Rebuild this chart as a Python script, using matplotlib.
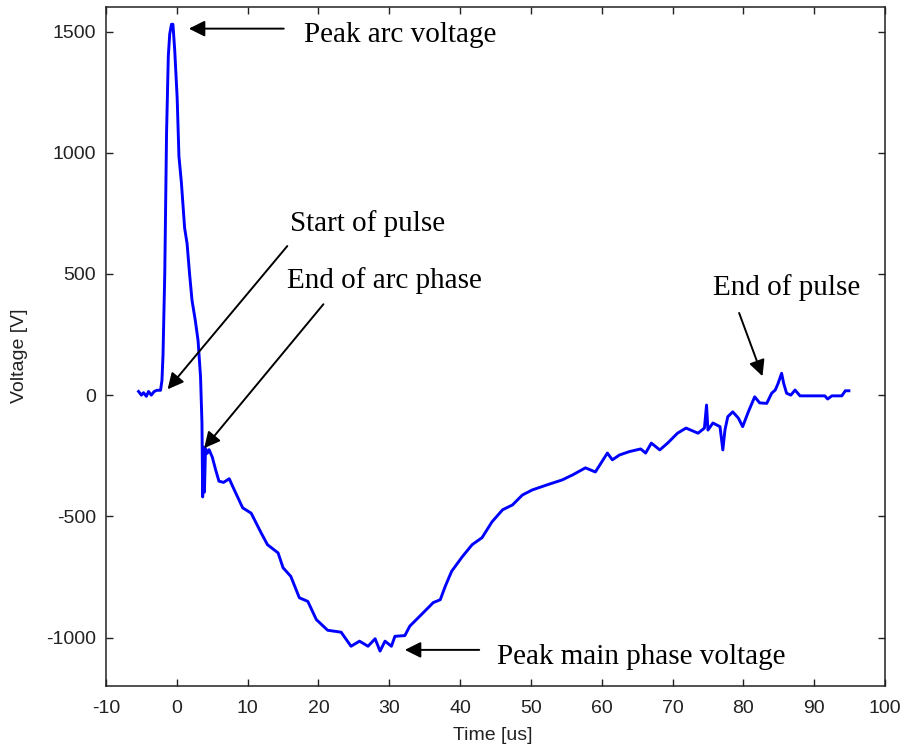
import matplotlib.pyplot as plt

plt.rcParams['axes.unicode_minus'] = False

# trace: time in us, voltage in V
time_us = [-5.4, -5.0, -4.7, -4.3, -4.0, -3.6, -3.2, -2.8, -2.3, -2.1,
           -1.95, -1.7, -1.45, -1.2, -1.0, -0.75, -0.55, -0.3, 0.05, 0.3,
           0.65, 1.1, 1.45, 1.8, 2.15, 2.6, 3.0, 3.35, 3.55, 3.65,
           3.8, 3.9, 4.05, 4.3, 4.55, 5.0, 5.5, 5.95, 6.6, 7.4,
           8.1, 9.3, 10.5, 11.9, 12.8, 14.3, 15.0, 16.1, 17.3, 18.5,
           19.7, 21.3, 23.2, 24.6, 25.8, 27.0, 28.0, 28.7, 29.4, 30.3,
           30.8, 32.2, 32.9, 34.1, 35.5, 36.2, 37.2, 37.9, 38.8, 40.3,
           41.7, 43.1, 44.5, 46.0, 47.4, 48.8, 50.2, 52.3, 54.4, 55.9,
           57.7, 59.1, 60.8, 61.5, 62.5, 63.9, 65.5, 66.2, 67.0, 68.2,
           69.3, 70.7, 71.9, 73.6, 74.5, 74.8, 75.0, 75.7, 76.7, 77.1,
           77.4, 77.8, 78.5, 79.3, 79.9, 80.7, 81.6, 82.3, 83.3, 84.0,
           84.5, 84.9, 85.4, 85.7, 86.1, 86.7, 87.3, 88.0, 91.5, 91.9,
           92.5, 93.9, 94.4, 94.9]
voltage = [15, 0, 10, -5, 15, 0, 15, 20, 20, 60,
           165, 505, 1080, 1400, 1490, 1530, 1530, 1425, 1225, 985,
           875, 690, 625, 500, 390, 310, 225, 75, -115, -420,
           -215, -400, -220, -240, -225, -255, -310, -355, -360, -345,
           -390, -465, -487, -568, -617, -651, -712, -748, -836, -851,
           -926, -970, -978, -1036, -1015, -1036, -1005, -1056, -1015, -1036,
           -995, -992, -953, -918, -877, -856, -844, -789, -727, -667,
           -617, -588, -523, -473, -453, -412, -391, -370, -350, -329,
           -300, -317, -239, -267, -247, -233, -222, -239, -198, -226,
           -198, -157, -136, -157, -136, -41, -144, -115, -130, -226,
           -144, -89, -69, -95, -130, -69, -7, -32, -34, 8,
           21, 48, 90, 48, 8, 0, 21, -3, -3, -16,
           -3, -3, 18, 18]

# annotations: text, text anchor (t, V), arrow tail, arrow tip
labels = ['Peak arc voltage', 'Start of pulse', 'End of arc phase',
          'End of pulse', 'Peak main phase voltage']
text_pos = [(17.9, 1456), (16.0, 677), (15.5, 441), (75.7, 415), (45.2, -1110)]
arrow_tail = [(15.1, 1512), (15.6, 615), (20.7, 375), (79.4, 339), (42.7, -1051)]
arrow_tip = [(1.7, 1512), (-1.3, 24), (3.86, -219), (82.7, 78), (32.2, -1051)]

xticks = list(range(-10, 101, 10))
yticks = [-1000, -500, 0, 500, 1000, 1500]

fig = plt.figure(figsize=(9.05, 7.44), dpi=100)
ax = fig.add_axes([106/905, 1 - 686/744, 779/905, 678.7/744])

ax.plot(time_us, voltage, color='#0000ff', lw=2.1)

for lab, tp, tail, tip in zip(labels, text_pos, arrow_tail, arrow_tip):
    ax.text(tp[0], tp[1], lab, fontsize=21, family='Liberation Serif',
            ha='left', va='baseline')
    ax.annotate('', xy=tip, xytext=tail,
                arrowprops=dict(arrowstyle='-|>', color='black', lw=1.4,
                                mutation_scale=24, shrinkA=0, shrinkB=0))

ax.set_xlim(-10, 100)
ax.set_ylim(-1200, 1600)
ax.set_xticks(xticks)
ax.set_yticks(yticks)
ax.tick_params(direction='in', length=5, width=1, top=True, right=True,
               labelsize=14, colors='#222222', pad=7)
ax.tick_params(axis='x', pad=10)
for lab in ax.get_xticklabels() + ax.get_yticklabels():
    lab.set_family('Liberation Sans')
for s in ax.spines.values():
    s.set_linewidth(1.1)
    s.set_color('#222222')

ax.set_xlabel('Time [us]', fontsize=14, family='Liberation Sans', color='#222222')
ax.set_ylabel('Voltage [V]', fontsize=14, family='Liberation Sans', color='#222222')
ax.xaxis.set_label_coords(0.496, -0.06)
ax.yaxis.set_label_coords(-0.100, 0.487)

fig.savefig('out.png', dpi=100)
